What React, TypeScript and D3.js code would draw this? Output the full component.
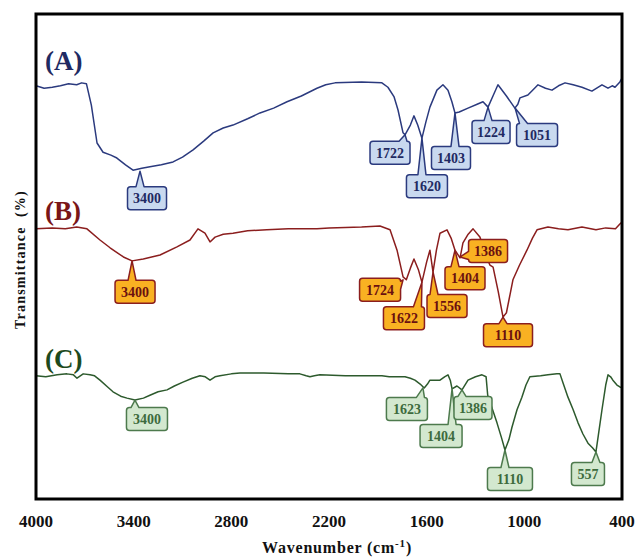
import React from 'react';
import * as d3 from 'd3';

// wavenumber (cm-1) / transmittance readings, traces already stacked
const wnA = [4000, 3950, 3900, 3850, 3800, 3750, 3720, 3690, 3660, 3625, 3588, 3540, 3503, 3450, 3404, 3350, 3300, 3230, 3158, 3100, 3035, 2970, 2912, 2850, 2790, 2700, 2624, 2540, 2458, 2370, 2274, 2220, 2163, 2000, 1875, 1838, 1800, 1776, 1745, 1733, 1700, 1678, 1655, 1629, 1605, 1580, 1537, 1500, 1469, 1445, 1426, 1400, 1346, 1290, 1254, 1223, 1190, 1162, 1110, 1058, 1040, 1027, 978, 916, 870, 830, 790, 750, 700, 646, 585, 523, 486, 460, 443, 413, 400];
const tA = [85.2, 84.7, 84.9, 85.2, 85.6, 85.4, 85.8, 85.6, 81.2, 73.4, 71.5, 70.9, 70.3, 68.9, 67.8, 68.2, 68.5, 68.9, 69.5, 70.5, 72.0, 73.8, 75.5, 76.5, 77.1, 78.4, 79.6, 80.6, 81.9, 83.1, 84.7, 85.4, 85.8, 86.0, 85.8, 84.9, 82.9, 80.2, 75.5, 75.1, 77.1, 79.0, 77.1, 74.4, 77.7, 80.8, 84.3, 85.4, 84.3, 81.9, 79.6, 79.8, 80.6, 81.4, 81.9, 80.8, 83.3, 85.4, 83.1, 80.6, 81.4, 82.7, 83.3, 85.4, 84.7, 84.3, 85.2, 85.8, 85.4, 84.9, 84.1, 85.4, 84.7, 85.2, 84.9, 86.0, 86.8];

const wnB = [4000, 3900, 3820, 3750, 3687, 3607, 3545, 3463, 3410, 3341, 3238, 3134, 3054, 3005, 2962, 2931, 2900, 2850, 2790, 2700, 2582, 2450, 2274, 2200, 2000, 1887, 1825, 1782, 1745, 1725, 1700, 1678, 1650, 1629, 1600, 1580, 1561, 1540, 1518, 1475, 1450, 1426, 1395, 1377, 1345, 1315, 1273, 1230, 1211, 1192, 1160, 1131, 1110, 1070, 1030, 984, 950, 922, 855, 790, 732, 646, 560, 500, 440, 413, 400];
const tB = [55.7, 55.9, 55.7, 56.1, 55.7, 53.4, 51.8, 49.9, 49.1, 49.5, 50.3, 52.0, 53.4, 55.7, 54.8, 53.0, 54.0, 54.6, 54.8, 55.3, 55.5, 55.7, 55.7, 55.9, 56.1, 56.3, 55.5, 51.3, 45.8, 45.2, 47.6, 49.5, 47.2, 44.7, 48.9, 51.3, 46.8, 51.3, 54.8, 55.5, 53.8, 51.3, 49.7, 52.8, 54.6, 55.7, 54.0, 49.7, 48.2, 47.8, 42.7, 37.5, 38.4, 45.2, 48.2, 51.3, 53.8, 55.5, 56.1, 55.7, 55.5, 56.1, 55.5, 55.9, 55.7, 56.7, 57.1];

const wnC = [4000, 3940, 3870, 3810, 3770, 3748, 3710, 3668, 3640, 3607, 3560, 3527, 3480, 3441, 3392, 3340, 3300, 3250, 3195, 3150, 3097, 3040, 2993, 2960, 2931, 2900, 2870, 2800, 2747, 2600, 2450, 2379, 2340, 2317, 2290, 2256, 2100, 1875, 1830, 1795, 1733, 1700, 1672, 1640, 1615, 1595, 1580, 1518, 1490, 1469, 1455, 1444, 1414, 1383, 1346, 1300, 1260, 1235, 1225, 1195, 1168, 1140, 1119, 1095, 1076, 1045, 1015, 990, 966, 900, 855, 800, 781, 760, 732, 700, 670, 640, 609, 580, 560, 545, 523, 500, 486, 470, 456, 431, 413, 400];
const tC = [25.4, 25.2, 25.6, 25.8, 25.6, 24.9, 25.8, 25.6, 25.4, 24.5, 23.1, 22.1, 21.2, 20.8, 20.4, 20.8, 21.4, 22.1, 22.5, 23.3, 24.1, 24.9, 25.4, 25.2, 24.5, 25.2, 25.4, 25.8, 26.0, 26.0, 25.8, 25.8, 25.4, 25.2, 25.4, 25.6, 25.4, 25.4, 25.2, 25.2, 25.2, 24.9, 24.5, 23.7, 22.9, 23.7, 24.5, 24.5, 25.2, 25.6, 24.5, 22.7, 23.3, 22.5, 24.5, 25.2, 25.6, 25.2, 21.4, 18.4, 15.7, 12.6, 10.1, 12.2, 14.8, 18.4, 21.0, 23.5, 25.2, 25.4, 25.6, 25.8, 25.8, 23.7, 21.0, 18.4, 15.7, 13.4, 11.5, 10.5, 9.7, 13.2, 18.4, 23.5, 25.6, 25.2, 24.5, 23.5, 23.1, 22.9];

const xTicks = [4000, 3400, 2800, 2200, 1600, 1000, 400];

// peak callouts: label text, tip wavenumber, tip transmittance
const peaksA = [
  { text: '3400', wn: 3361, t: 67.6 },
  { text: '1722', wn: 1733, t: 75.1 },
  { text: '1620', wn: 1629, t: 74.4 },
  { text: '1403', wn: 1426, t: 79.6 },
  { text: '1224', wn: 1223, t: 80.8 },
  { text: '1051', wn: 1057, t: 80.6 },
];
const peaksB = [
  { text: '3400', wn: 3410, t: 49.1 },
  { text: '1724', wn: 1745, t: 45.2 },
  { text: '1622', wn: 1629, t: 44.7 },
  { text: '1556', wn: 1561, t: 46.8 },
  { text: '1404', wn: 1426, t: 51.3 },
  { text: '1386', wn: 1395, t: 49.9 },
  { text: '1110', wn: 1131, t: 37.5 },
];
const peaksC = [
  { text: '3400', wn: 3392, t: 20.4 },
  { text: '1623', wn: 1623, t: 22.9 },
  { text: '1404', wn: 1444, t: 22.7 },
  { text: '1386', wn: 1383, t: 22.5 },
  { text: '1110', wn: 1119, t: 10.1 },
  { text: '557', wn: 560, t: 9.7 },
];

// box offsets (px) of each callout relative to its tip: [dx of box centre, dy of box centre, width]
const boxA = [[7, 27, 39], [-15, 18, 40], [5, 48, 41], [-4, 45, 39], [3, 25, 38], [22, 27, 41]];
const boxB = [[3, 31, 40], [-23, 10, 41], [-18, 36, 41], [14, 34, 40], [10, 28, 40], [28, -6, 39], [5, 18, 49]];
const boxC = [[12, 19, 41], [-16, 21, 41], [-11, 47, 42], [11, 18, 38], [5, 29, 45], [-8, 22, 33]];

const W = 635;
const H = 558;
const margin = { top: 14, right: 13, bottom: 59, left: 36 };

const series = [
  { key: 'A', wn: wnA, t: tA, peaks: peaksA, boxes: boxA, line: '#2b3a7e', title: '#1f2a62', fill: '#c9d9ef', border: '#2b3a7e', txt: '#1f2a62', ly: 70 },
  { key: 'B', wn: wnB, t: tB, peaks: peaksB, boxes: boxB, line: '#8b1e1e', title: '#7a1517', fill: '#f9b122', border: '#8b1e1e', txt: '#6b1010', ly: 220 },
  { key: 'C', wn: wnC, t: tC, peaks: peaksC, boxes: boxC, line: '#2d5a2d', title: '#1d4a1d', fill: '#d3e8cf', border: '#4d7a4d', txt: '#3d6b3d', ly: 368 },
];

function calloutPath(x: number, y: number, w: number, h: number, tx: number, ty: number) {
  const r = 3;
  const hw = 4;
  const clamp = (v: number, a: number, b: number) => Math.max(a, Math.min(b, v));
  let side = 'top';
  if (ty < y) side = 'top';
  else if (ty > y + h) side = 'bottom';
  else if (tx < x) side = 'left';
  else side = 'right';
  const bx = clamp(tx, x + r + hw, x + w - r - hw);
  const by = clamp(ty, y + r + hw, y + h - r - hw);
  let p = `M${x + r},${y}`;
  if (side === 'top') p += `L${bx - hw},${y}L${tx},${ty}L${bx + hw},${y}`;
  p += `L${x + w - r},${y}Q${x + w},${y} ${x + w},${y + r}`;
  if (side === 'right') p += `L${x + w},${by - hw}L${tx},${ty}L${x + w},${by + hw}`;
  p += `L${x + w},${y + h - r}Q${x + w},${y + h} ${x + w - r},${y + h}`;
  if (side === 'bottom') p += `L${bx + hw},${y + h}L${tx},${ty}L${bx - hw},${y + h}`;
  p += `L${x + r},${y + h}Q${x},${y + h} ${x},${y + h - r}`;
  if (side === 'left') p += `L${x},${by + hw}L${tx},${ty}L${x},${by - hw}`;
  p += `L${x},${y + r}Q${x},${y} ${x + r},${y}Z`;
  return p;
}

export default function App() {
  const x = d3.scaleLinear().domain([4000, 400]).range([margin.left, W - margin.right]);
  const y = d3.scaleLinear().domain([0, 100]).range([H - margin.bottom, margin.top]);

  const line = d3.line<[number, number]>()
    .x(d => x(d[0]))
    .y(d => y(d[1]))
    .curve(d3.curveLinear);

  const serif = '"Liberation Serif", "Times New Roman", serif';
  const boxH = 23;

  return (
    <div style={{ position: 'absolute', left: 0, top: 0 }}>
      <svg width={W} height={H} style={{ display: 'block', background: '#fff' }} fontFamily={serif}>
        {series.map(s => (
          <path key={s.key} d={line(s.wn.map((w, i) => [w, s.t[i]]) as [number, number][]) || ''}
            fill="none" stroke={s.line} strokeWidth={1.5} strokeLinejoin="round" />
        ))}

        {series.map(s => (
          <text key={'t' + s.key} x={45} y={s.ly} fontSize={27} fontWeight="bold" fill={s.title}>({s.key})</text>
        ))}

        {series.map(s => s.peaks.map((pk, i) => {
          const tx = x(pk.wn);
          const ty = y(pk.t);
          const [dx, dy, bw] = s.boxes[i];
          const cx = tx + dx;
          const cy = ty + dy;
          const bx = cx - bw / 2;
          const by = cy - boxH / 2;
          return (
            <g key={s.key + pk.text + i}>
              <path d={calloutPath(bx, by, bw, boxH, tx, ty)} fill={s.fill} stroke={s.border} strokeWidth={1.5} strokeLinejoin="round" />
              <text x={cx} y={cy + 5} textAnchor="middle" fontSize={14} fontWeight="bold" fill={s.txt}>{pk.text}</text>
            </g>
          );
        }))}

        <rect x={margin.left} y={margin.top} width={W - margin.left - margin.right} height={H - margin.top - margin.bottom}
          fill="none" stroke="#000" strokeWidth={3} />

        {xTicks.map(t => (
          <text key={t} x={x(t)} y={527} textAnchor="middle" fontSize={17} fontWeight="bold" fill="#111">{t}</text>
        ))}

        <text x={337} y={553} textAnchor="middle" fontSize={16} fontWeight="bold" letterSpacing={0.8} fill="#111">
          Wavenumber (cm<tspan dy={-6} fontSize={11}>-1</tspan><tspan dy={6}>)</tspan>
        </text>

        <text transform={`translate(25, ${(margin.top + H - margin.bottom) / 2 + 3}) rotate(-90)`} textAnchor="middle"
          fontSize={14} fontWeight="bold" letterSpacing={1.2} fill="#111">
          Transmittance{'\u00a0\u00a0'}(%)
        </text>
      </svg>
    </div>
  );
}
